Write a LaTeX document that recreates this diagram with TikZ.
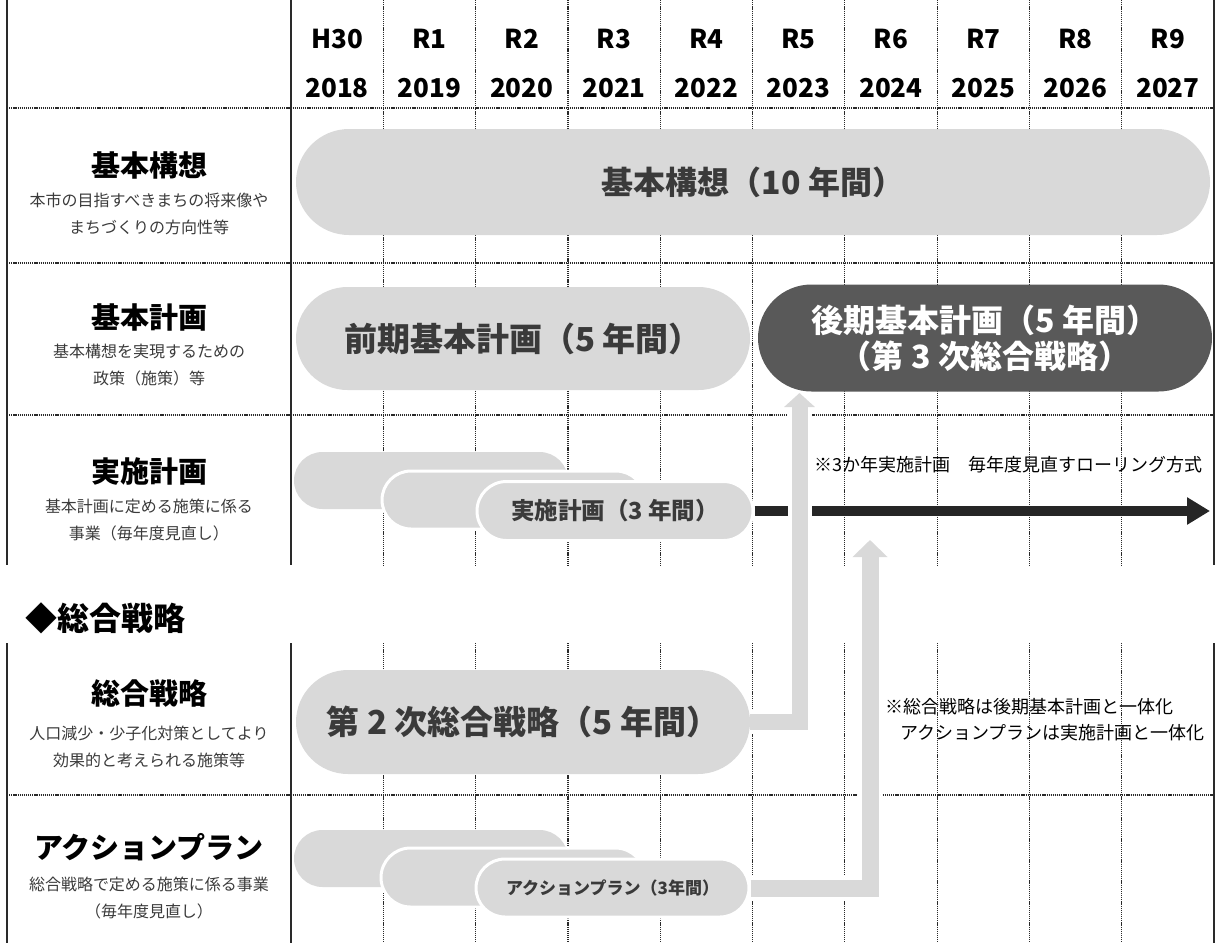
\documentclass[tikz,border=0pt]{standalone}
\usepackage{fontspec}
\setmainfont{Noto Sans CJK JP}
\usetikzlibrary{arrows.meta,backgrounds}
\definecolor{pillgray}{HTML}{D9D9D9}
\definecolor{pilldark}{HTML}{595959}
\definecolor{pilltxt}{HTML}{3A3A3A}
\definecolor{subtxt}{HTML}{3A3A3A}
\definecolor{gridc}{HTML}{2A2A2A}
\definecolor{arrowdark}{HTML}{262626}
\begin{document}
\begin{tikzpicture}[x=1pt,y=-1pt,
  solidline/.style={draw=gridc, line width=1.4pt},
  dotline/.style={draw=gridc, line width=1.2pt, dash pattern=on 1.2pt off 0.9pt},
  yearlbl/.style={font=\fontsize{26}{30}\selectfont\bfseries, text=black, inner sep=0pt},
  ttl/.style={font=\fontsize{29}{33}\selectfont\bfseries, text=black, inner sep=0pt},
  subtext/.style={font=\fontsize{16}{27}\selectfont, text=subtxt, align=center, inner sep=0pt},
  pill/.style={fill=pillgray, text=pilltxt, inner sep=0pt, font=\fontsize{32}{36}\selectfont\bfseries},
  layered/.style={pill, draw=white, line width=3pt},
  note/.style={font=\fontsize{18}{26}\selectfont, text=black, inner sep=0pt},
  darkarrow/.style={draw=arrowdark, line width=10pt, -{Triangle[length=23pt,width=26pt]}},
  grayarrowA/.style={draw=pillgray, line width=16pt, -{Triangle[length=14pt,width=30pt]}},
  grayarrowB/.style={draw=pillgray, line width=17pt, -{Triangle[length=17pt,width=34pt]}},
  whiteborder/.style={draw=white, line width=24pt}
]
\useasboundingbox (0,0) rectangle (1216,943);

% ---------- header ----------
\foreach \i/\a/\b in {0/H30/2018,1/R1/2019,2/R2/2020,3/R3/2021,4/R4/2022,5/R5/2023,6/R6/2024,7/R7/2025,8/R8/2026,9/R9/2027}{
  \node[yearlbl] (h\i) at ({337.15+92.3*\i},39) {\a};
  \node[yearlbl] (y\i) at ({337.15+92.3*\i},88) {\b};
}

% ---------- left column ----------
\node[ttl] (t1) at (149,165) {基本構想};
\node[subtext] (s1) at (149,213.5) {本市の目指すべきまちの将来像や\\まちづくりの方向性等};
\node[ttl] (t2) at (149,317) {基本計画};
\node[subtext] (s2) at (149,365.5) {基本構想を実現するための\\政策（施策）等};
\node[ttl] (t3) at (149,472) {実施計画};
\node[subtext] (s3) at (149,520) {基本計画に定める施策に係る\\事業（毎年度見直し）};

\node[anchor=west, font=\fontsize{32}{36}\selectfont\bfseries, inner sep=0pt] (sect) at (25,618) {◆総合戦略};

\node[ttl] (t4) at (149,693) {総合戦略};
\node[subtext] (s4) at (149,746.5) {人口減少・少子化対策としてより\\効果的と考えられる施策等};
\node[ttl] (t5) at (149,847) {アクションプラン};
\node[subtext] (s5) at (149,898.5) {総合戦略で定める施策に係る事業\\（毎年度見直し）};

% ---------- pills ----------
\node[pill, minimum width=914pt, minimum height=106pt, rounded corners=53pt] (kouso) at (753,182) {基本構想（10 年間）};
\node[pill, minimum width=454pt, minimum height=103pt, rounded corners=51.5pt, font=\fontsize{33}{36}\selectfont\bfseries] (zenki) at (523,338.5) {前期基本計画（5 年間）};
\node[pill, fill=pilldark, text=white, minimum width=454pt, minimum height=107pt, rounded corners=53.5pt, align=center, font=\fontsize{32}{36}\selectfont\bfseries] (kouki) at (985,338) {後期基本計画（5 年間）\\（第 3 次総合戦略）};

\node[pill, minimum width=274pt, minimum height=57pt, rounded corners=28.5pt] (jp1) at (431,480.5) {};
\node[layered, minimum width=263pt, minimum height=58pt, rounded corners=29pt] (jp2) at (513.5,500) {};
\node[layered, minimum width=276pt, minimum height=59pt, rounded corners=29.5pt, font=\fontsize{23.5}{26}\selectfont\bfseries] (jp3) at (615,511) {実施計画（3 年間）};

\node[pill, minimum width=454pt, minimum height=104pt, rounded corners=52pt, font=\fontsize{33}{36}\selectfont\bfseries] (sogo) at (523,722) {第 2 次総合戦略（5 年間）};

\node[pill, minimum width=274pt, minimum height=57pt, rounded corners=28.5pt] (ap1) at (431,858.5) {};
\node[layered, minimum width=264pt, minimum height=59pt, rounded corners=29.5pt] (ap2) at (513,877.5) {};
\node[layered, minimum width=273pt, minimum height=58pt, rounded corners=29pt, font=\fontsize{17}{20}\selectfont\bfseries] (ap3) at (612.5,888) {アクションプラン（3年間）};

% ---------- notes ----------
\node[note, anchor=east] (n1) at (1203,465) {※3か年実施計画　毎年度見直すローリング方式};
\node[note, anchor=west, align=left] (n2) at (885,720) {※総合戦略は後期基本計画と一体化\\\hspace*{15pt}アクションプランは実施計画と一体化};

% ---------- coordinates ----------
\coordinate (darkend) at (1210,511);
\coordinate (tipA) at (799.5,393);
\coordinate (tipB) at (870,540);

\begin{pgfonlayer}{background}
  % grid: top table
  \draw[solidline] (7,0) -- (7,565);
  \draw[solidline] (291,0) -- (291,565);
  \draw[solidline] (1214,0) -- (1214,565);
  \foreach \k in {1,...,9}{
    \draw[dotline] ({291+92.3*\k},0) -- ({291+92.3*\k},565);
    \draw[dotline] ({291+92.3*\k},643) -- ({291+92.3*\k},943);
  }
  \draw[dotline] (7,108) -- (1214,108);
  \draw[dotline] (7,263) -- (1214,263);
  \draw[dotline] (7,415) -- (1214,415);
  % grid: bottom table
  \draw[solidline] (7,643) -- (7,943);
  \draw[solidline] (291,643) -- (291,943);
  \draw[solidline] (1214,643) -- (1214,943);
  \draw[dotline] (7,795) -- (1214,795);
  % arrows
  \draw[darkarrow] (jp3.east) -- (darkend);
  \draw[whiteborder, shorten >=14pt] (sogo.east) -| (tipA);
  \draw[grayarrowA] (sogo.east) -| (tipA);
  \draw[whiteborder, shorten >=17pt] (ap3.east) -| (tipB);
  \draw[grayarrowB] (ap3.east) -| (tipB);
\end{pgfonlayer}
\end{tikzpicture}
\end{document}
